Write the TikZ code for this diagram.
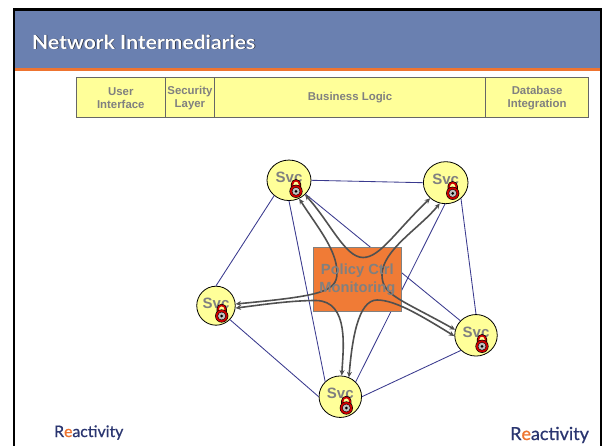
\documentclass[tikz,border=0pt]{standalone}
\usepackage{fontspec}
\setmainfont{Liberation Sans}
\newfontfamily\gillish[FakeStretch=1.08]{Lato}
\newfontfamily\logofont[FakeBold=0.7]{Lato}
\usetikzlibrary{shapes.geometric,arrows.meta}
\definecolor{bandblue}{HTML}{6A80B0}
\definecolor{barorange}{HTML}{EE7430}
\definecolor{boxorange}{HTML}{F07B36}
\definecolor{paleyellow}{HTML}{FFFF99}
\definecolor{txtgray}{HTML}{808080}
\definecolor{linegray}{HTML}{666666}
\definecolor{navyline}{HTML}{3A3A8E}
\definecolor{curvegray}{HTML}{505050}
\definecolor{logonavy}{HTML}{2A3570}
\definecolor{lockred}{HTML}{CC0000}
\tikzset{
  x=1pt,y=-1pt,
  tablecell/.style={draw=linegray,line width=0.9pt,fill=paleyellow,inner sep=0pt,text=txtgray,align=center,
    font=\fontsize{11.4}{13}\selectfont\bfseries,anchor=north west,minimum height=40pt},
  svcnode/.style={ellipse,draw=black,line width=0.8pt,fill=paleyellow,inner sep=0pt},
  svctext/.style={text=txtgray,font=\fontsize{15}{15}\selectfont\bfseries,inner sep=0pt},
  thinlink/.style={draw=navyline,line width=0.85pt},
  flow/.style={draw=curvegray,line width=1.6pt,{Stealth[length=5.5pt,width=5pt]}-{Stealth[length=5.5pt,width=5pt]}},
  ctrlbox/.style={draw=txtgray,line width=1pt,fill=boxorange,inner sep=0pt,minimum width=87.5pt,minimum height=63pt},
  ctrltext/.style={text=txtgray,align=center,inner sep=0pt,font=\fontsize{14.7}{18}\selectfont\bfseries},
  logotext/.style={text=logonavy,inner sep=0pt,anchor=base west},
  lockpic/.pic={
    \draw[black,line width=3pt] (-3.6,-3) -- (-3.6,-7) arc[start angle=180,end angle=360,radius=3.6] -- (3.6,-3);
    \draw[lockred,line width=1.7pt,fill=paleyellow] (-3.6,-3) -- (-3.6,-7) arc[start angle=180,end angle=360,radius=3.6] -- (3.6,-3);
    \fill[black] (0,0) circle[radius=6.6];
    \fill[lockred] (0,0) circle[radius=6];
    \fill[black] (0,0) circle[radius=4.1];
    \fill[lightgray] (0,0) circle[radius=3.6];
    \fill[black] (0,0) circle[radius=1.5];
  }
}
\begin{document}
\begin{tikzpicture}
\useasboundingbox (0,0) rectangle (602,446);
\fill[white] (0,0) rectangle (602,446);
% slide frame
\fill[black] (13,8.5) rectangle (602,446);
\fill[white] (15,11.5) rectangle (600,446);
\fill[bandblue] (15,11.5) rectangle (600,68);
\fill[barorange] (15,68) rectangle (600,71);
\node[text=black!75!bandblue,inner sep=0pt,anchor=base west,font=\gillish\fontsize{19.5}{20}\selectfont\bfseries] at (32.7,49.9) {Network Intermediaries};
\node[text=white,inner sep=0pt,anchor=base west,font=\gillish\fontsize{19.5}{20}\selectfont\bfseries] (title) at (32,49.2) {Network Intermediaries};
% layer table
\node[tablecell,minimum width=88.7pt] (ui) at (76,77.3) {User\\Interface};
\node[tablecell,minimum width=49.6pt] (sec) at (164.7,77.3) {Security\\Layer};
\node[tablecell,minimum width=270.7pt] (biz) at (214.3,77.3) {Business Logic};
\node[tablecell,minimum width=103.3pt] (db) at (485,77.3) {Database\\Integration};
% services
\node[svcnode,minimum width=44pt,minimum height=40.5pt] (s1) at (289,180.3) {};
\node[svcnode,minimum width=44.6pt,minimum height=42pt] (s2) at (445.7,182.7) {};
\node[svcnode,minimum width=38.5pt,minimum height=39pt] (s3) at (216,305.7) {};
\node[svcnode,minimum width=42.5pt,minimum height=41.5pt] (s4) at (340.3,396.7) {};
\node[svcnode,minimum width=42.5pt,minimum height=41.5pt] (s5) at (476,335.3) {};
% thin links
\draw[thinlink] (s1.0) -- (s2.180);
\draw[thinlink] (s1.226) -- (s3.90);
\draw[thinlink] (s1.-90) -- (s4.135);
\draw[thinlink] (s1.-40) -- (s5.137);
\draw[thinlink] (s2.-92) -- (s4.44);
\draw[thinlink] (s2.-46) -- (s5.90);
\draw[thinlink] (s3.-45) -- (s4.180);
\draw[thinlink] (s4.0) -- (s5.225);
% central box
\node[ctrlbox] (ctrl) at (357.3,279.5) {};
% flows
\draw[flow] (s1.-42) .. controls (330,222) and (345,257.5) .. (363,257.5) .. controls (380,257.5) and (395,232) .. (s2.225);
\draw[flow] (s1.-61) .. controls (318,228) and (337,250) .. (337,273) .. controls (337,292) and (320,296) .. (s3.5);
\draw[flow] (s2.-106) .. controls (420,228) and (382,250) .. (382,275) .. controls (382,295) and (400,299) .. (s5.165);
\draw[flow] (s5.182) .. controls (420,315) and (395,300) .. (377,300) .. controls (358,300) and (352,340) .. (s4.66);
\draw[flow] (s4.86) .. controls (343,350) and (350,301) .. (316,300.5) .. controls (290,300.5) and (260,305) .. (s3.-7);
\node[ctrltext] (ctrllabel) at (ctrl) {Policy Ctrl\\Monitoring};
% service labels and locks
\node[svctext] (l1) at (289,177.3) {Svc};
\node[svctext] (l2) at (445.7,179.7) {Svc};
\node[svctext] (l3) at (216,303.5) {Svc};
\node[svctext] (l4) at (340.3,393.7) {Svc};
\node[svctext] (l5) at (476,332.3) {Svc};
\pic at (296,191.3) {lockpic};
\pic at (452.7,193.3) {lockpic};
\pic at (221.7,316) {lockpic};
\pic at (346.3,408) {lockpic};
\pic at (482,346.3) {lockpic};
% logos
\node[logotext,font=\logofont\fontsize{15.8}{16}\selectfont] (logoa) at (54,437) {R\textcolor{barorange}{e}activity};
\node[logotext,font=\logofont\fontsize{18}{18}\selectfont] (logob) at (510,440) {R\textcolor{barorange}{e}activity};
\end{tikzpicture}
\end{document}
